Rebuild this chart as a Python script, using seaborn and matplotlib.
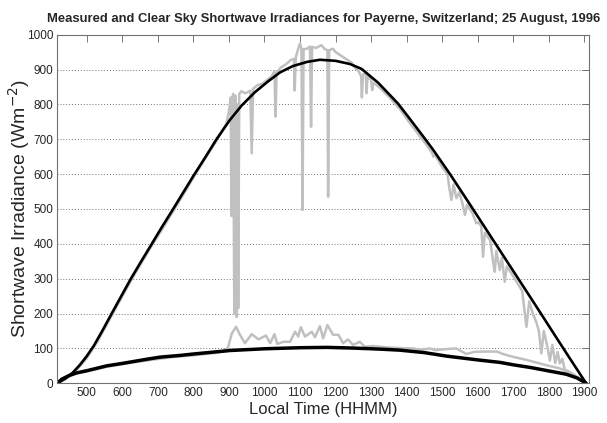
import numpy as np
import pandas as pd
import matplotlib
matplotlib.use("Agg")
import matplotlib.pyplot as plt
import seaborn as sns

sns.set_style("white")
plt.rcParams["font.family"] = ["Liberation Sans", "DejaVu Sans"]

# clear sky global (black, upper)
clear_t = [417, 440, 460, 480, 500, 520, 545, 570, 597, 624, 652, 680, 710, 743, 770, 800,
           832, 865, 903, 936, 973, 1010, 1044, 1080, 1120, 1156, 1200, 1240, 1273, 1320,
           1376, 1410, 1451, 1475, 1522, 1580, 1640, 1700, 1760, 1820, 1860, 1905]
clear_glob = [0, 14, 30, 52, 78, 108, 153, 200, 250, 300, 348, 395, 446, 500, 545, 595,
              646, 700, 756, 797, 835, 866, 892, 910, 922, 928, 925, 916, 902, 862,
              802, 757, 702, 669, 600, 510, 416, 322, 228, 133, 70, 0]

# clear sky diffuse (black, lower)
clear_dt = [417, 430, 450, 472, 500, 556, 600, 669, 706, 763, 800, 903, 1000, 1100, 1175,
            1250, 1325, 1381, 1450, 1512, 1600, 1662, 1700, 1750, 1802, 1849, 1880, 1905]
clear_diff = [0, 12, 22, 30, 36, 50, 57, 69, 75, 80, 84, 94, 99, 102, 103,
              101, 98, 95, 88, 78, 67, 60, 53, 45, 35, 26, 15, 0]

# measured global (grey)
meas_t = [417, 440, 470, 500, 530, 560, 600, 640, 680, 720, 760, 800, 830, 860, 880, 893,
          900, 905, 907, 909, 912, 915, 918, 921, 924, 926, 929, 935, 945, 955, 960, 964,
          968, 980, 995, 1010, 1020, 1028, 1031, 1034, 1045, 1060, 1075, 1083, 1085, 1088,
          1095, 1100, 1104, 1107, 1110, 1120, 1128, 1131, 1134, 1145, 1160, 1170, 1177, 1179,
          1182, 1192, 1200, 1215, 1230, 1245, 1255, 1265, 1272, 1274, 1277, 1285, 1287, 1290,
          1300, 1303, 1306, 1320, 1350, 1380, 1410, 1440, 1460, 1472, 1475, 1480, 1500, 1515,
          1520, 1526, 1532, 1540, 1548, 1556, 1564, 1570, 1585, 1596, 1602, 1610, 1615, 1620,
          1635, 1643, 1648, 1652, 1662, 1668, 1676, 1682, 1695, 1710, 1725, 1737, 1745, 1755,
          1765, 1772, 1779, 1786, 1795, 1803, 1810, 1818, 1825, 1831, 1838, 1845, 1855, 1870,
          1885, 1905]
meas_glob = [0, 11, 37, 72, 120, 175, 250, 322, 390, 455, 522, 590, 640, 688, 722, 745,
             780, 820, 480, 815, 830, 200, 825, 190, 800, 215, 830, 838, 832, 836, 840, 660,
             845, 855, 860, 872, 880, 895, 765, 890, 905, 915, 928, 930, 840, 935,
             960, 975, 960, 497, 958, 960, 966, 736, 965, 962, 970, 958, 956, 535,
             955, 960, 950, 940, 930, 920, 905, 895, 880, 820, 885, 890, 832, 880,
             870, 841, 862, 852, 822, 788, 745, 705, 678, 660, 650, 655, 620, 600,
             560, 526, 570, 531, 548, 520, 483, 512, 488, 459, 462, 450, 363, 432,
             410, 350, 320, 380, 325, 360, 291, 335, 315, 290, 265, 162, 235, 200,
             175, 150, 86, 150, 110, 65, 110, 58, 90, 57, 70, 38, 35, 25,
             14, 0]

# measured diffuse (grey)
meas_dt = [417, 440, 470, 500, 560, 620, 680, 740, 800, 860, 890, 898, 908, 920, 931, 945,
           964, 983, 1004, 1016, 1028, 1036, 1053, 1072, 1086, 1095, 1102, 1114, 1133, 1142,
           1156, 1165, 1177, 1193, 1208, 1221, 1235, 1249, 1268, 1282, 1306, 1343, 1380, 1418,
           1440, 1465, 1480, 1510, 1539, 1568, 1590, 1615, 1654, 1671, 1699, 1737, 1774, 1800,
           1830, 1860, 1885, 1905]
meas_diff = [0, 18, 28, 34, 48, 58, 67, 75, 80, 87, 93, 105, 143, 162, 139, 115,
             141, 126, 137, 115, 141, 113, 119, 119, 148, 134, 161, 134, 148, 132,
             164, 129, 167, 139, 139, 115, 126, 110, 119, 105, 107, 103, 101, 100,
             96, 100, 95, 98, 100, 84, 90, 91, 91, 84, 76, 67, 57, 50,
             43, 30, 15, 0]

x_ticks = list(range(500, 2000, 100))
y_ticks = list(range(0, 1100, 100))

fig = plt.figure(figsize=(6.07, 4.23), dpi=100)
ax = fig.add_axes([0.0944, 0.0939, 0.8759, 0.8241])

grey = "#c0c0c0"
sns.lineplot(x=meas_t, y=meas_glob, ax=ax, color=grey, linewidth=1.8, sort=False, estimator=None)
sns.lineplot(x=meas_dt, y=meas_diff, ax=ax, color=grey, linewidth=1.8, sort=False, estimator=None)
sns.lineplot(x=clear_t, y=clear_glob, ax=ax, color="black", linewidth=1.9, sort=False, estimator=None)
sns.lineplot(x=clear_dt, y=clear_diff, ax=ax, color="black", linewidth=2.5, sort=False, estimator=None)

ax.set_xlim(417, 1913)
ax.set_ylim(0, 1000)
ax.set_xticks(x_ticks)
ax.set_yticks(y_ticks)
ax.set_xticklabels([str(t) for t in x_ticks])
ax.set_yticklabels([str(t) for t in y_ticks])

ax.yaxis.grid(True, linestyle=(0, (1, 2)), color="#707070", linewidth=0.7)
ax.xaxis.grid(False)

ax.tick_params(direction="in", length=5, width=0.6, color="#606060",
               labelsize=8.5, top=True, right=True, pad=3)
for s in ax.spines.values():
    s.set_color("#707070")
    s.set_linewidth(0.8)

ax.set_title("Measured and Clear Sky Shortwave Irradiances for Payerne, Switzerland; 25 August, 1996",
             fontsize=9.4, fontweight="bold", pad=9)
ax.set_xlabel("Local Time (HHMM)", fontsize=12, labelpad=2)
ax.set_ylabel("Shortwave Irradiance (Wm$^{-2}$)", fontsize=14)
ax.yaxis.set_label_coords(-0.047, 0.5)

fig.savefig("out.png", dpi=100)
